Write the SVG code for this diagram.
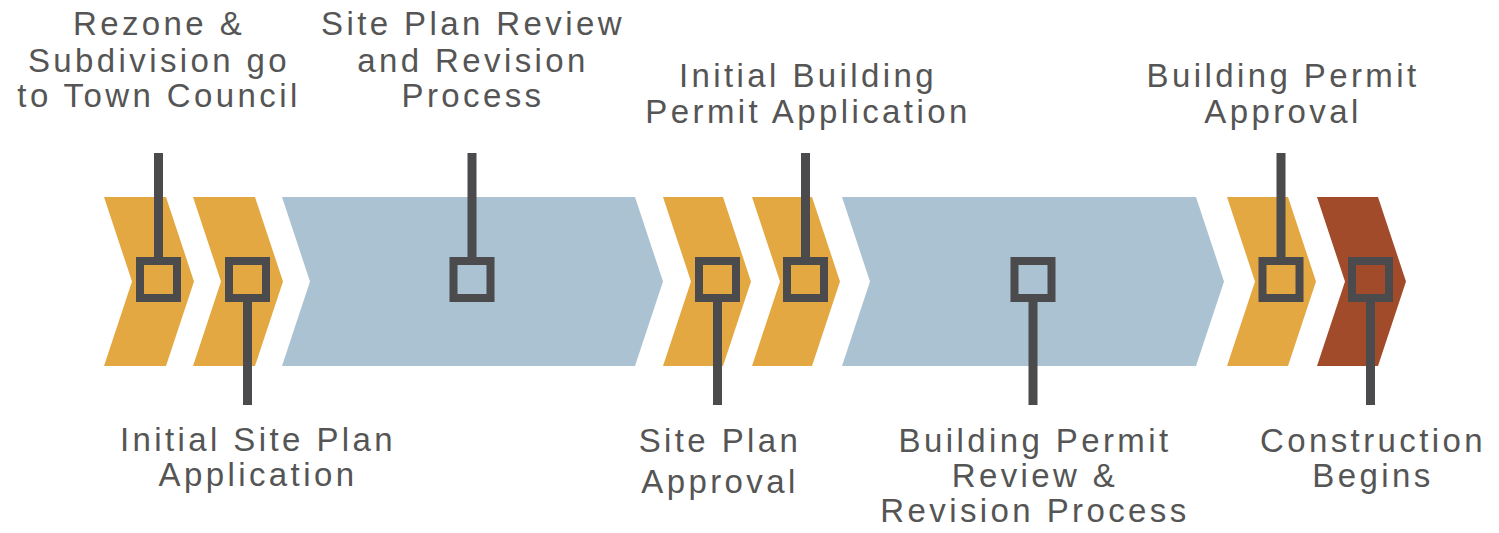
<svg xmlns="http://www.w3.org/2000/svg" width="1499" height="533" viewBox="0 0 1499 533">
<style>
.or{fill:#E4A842}
.bl{fill:#AAC2D1}
.br{fill:#A14B2B}
.sq{fill:none;stroke:#4B4B4D;stroke-width:8}
.ln{stroke:#4B4B4D;stroke-width:9;fill:none}
.tx{font-family:"Liberation Sans",Arial,sans-serif;font-size:33px;letter-spacing:3.4px;fill:#555555;text-anchor:middle}
</style>
<rect width="1499" height="533" fill="#fff"/>
<g id="stages">
<polygon id="stage1" class="or" points="104,197 166,197 194,281.5 166,366 104,366 132,281.5"/>
<polygon id="stage2" class="or" points="193,197 255,197 283,281.5 255,366 193,366 221,281.5"/>
<polygon id="stage3" class="bl" points="282,197 635,197 663,281.5 635,366 282,366 310,281.5"/>
<polygon id="stage4" class="or" points="663,197 723,197 751,281.5 723,366 663,366 691,281.5"/>
<polygon id="stage5" class="or" points="752,197 812,197 840,281.5 812,366 752,366 780,281.5"/>
<polygon id="stage6" class="bl" points="842,197 1196,197 1224,281.5 1196,366 842,366 870,281.5"/>
<polygon id="stage7" class="or" points="1227,197 1288,197 1316,281.5 1288,366 1227,366 1255,281.5"/>
<polygon id="stage8" class="br" points="1317,197 1378,197 1406,281.5 1378,366 1317,366 1345,281.5"/>
</g>
<g id="connectors">
<line class="ln" x1="158.5" y1="153" x2="158.5" y2="258"/>
<line class="ln" x1="247.5" y1="301" x2="247.5" y2="405"/>
<line class="ln" x1="472" y1="153" x2="472" y2="258"/>
<line class="ln" x1="717.5" y1="301" x2="717.5" y2="405"/>
<line class="ln" x1="805.5" y1="153" x2="805.5" y2="258"/>
<line class="ln" x1="1033" y1="301" x2="1033" y2="405"/>
<line class="ln" x1="1281" y1="153" x2="1281" y2="258"/>
<line class="ln" x1="1370.5" y1="301" x2="1370.5" y2="405"/>
</g>
<g id="m1"><rect class="sq" x="140" y="261" width="37" height="37"/>
<text class="tx"><tspan x="159" y="35">Rezone &amp;</tspan><tspan x="159" y="72">Subdivision go</tspan><tspan x="159" y="107">to Town Council</tspan></text></g>
<g id="m2"><rect class="sq" x="229" y="261" width="37" height="37"/>
<text class="tx"><tspan x="258" y="451">Initial Site Plan</tspan><tspan x="258" y="486">Application</tspan></text></g>
<g id="m3"><rect class="sq" x="453.5" y="261" width="37" height="37"/>
<text class="tx"><tspan x="473" y="35">Site Plan Review</tspan><tspan x="473" y="72">and Revision</tspan><tspan x="473" y="107">Process</tspan></text></g>
<g id="m4"><rect class="sq" x="699" y="261" width="37" height="37"/>
<text class="tx"><tspan x="720" y="452">Site Plan</tspan><tspan x="720" y="493">Approval</tspan></text></g>
<g id="m5"><rect class="sq" x="787" y="261" width="37" height="37"/>
<text class="tx"><tspan x="808" y="87">Initial Building</tspan><tspan x="808" y="123">Permit Application</tspan></text></g>
<g id="m6"><rect class="sq" x="1014.5" y="261" width="37" height="37"/>
<text class="tx"><tspan x="1035" y="452">Building Permit</tspan><tspan x="1035" y="487">Review &amp;</tspan><tspan x="1035" y="522">Revision Process</tspan></text></g>
<g id="m7"><rect class="sq" x="1262.5" y="261" width="37" height="37"/>
<text class="tx"><tspan x="1283" y="87">Building Permit</tspan><tspan x="1283" y="123">Approval</tspan></text></g>
<g id="m8"><rect class="sq" x="1352" y="261" width="37" height="37"/>
<text class="tx"><tspan x="1373" y="452">Construction</tspan><tspan x="1373" y="487">Begins</tspan></text></g>
</svg>
